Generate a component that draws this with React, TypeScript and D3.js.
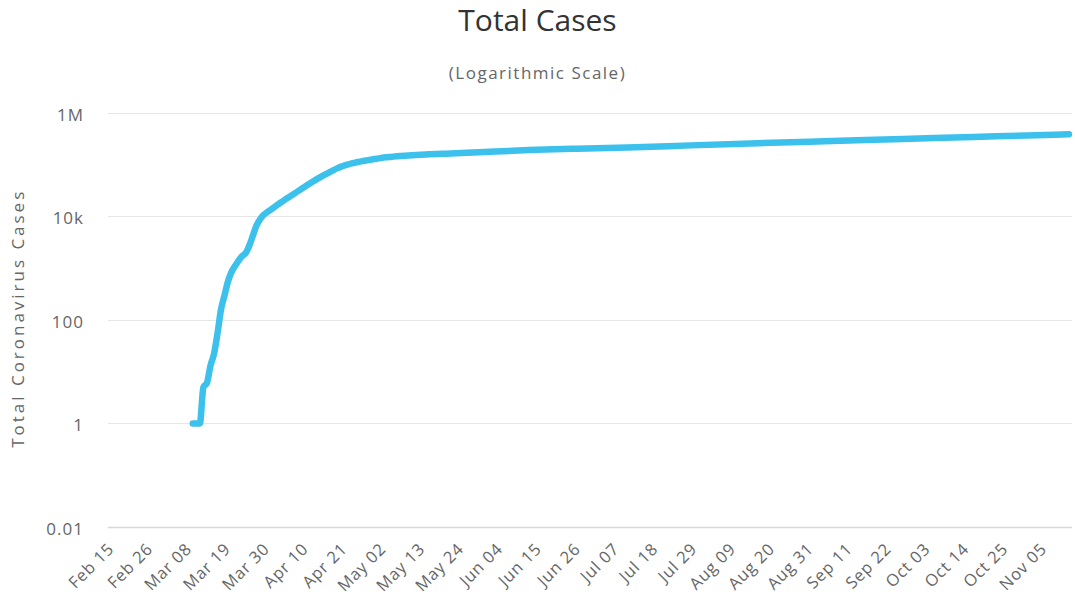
import React from "react";
import * as d3 from "d3";

// Cumulative confirmed cases, read per day through early May, then less often.
const dates: string[] = [
  "2020-03-10", "2020-03-11", "2020-03-12", "2020-03-13", "2020-03-14", "2020-03-15",
  "2020-03-16", "2020-03-17", "2020-03-18", "2020-03-19", "2020-03-20", "2020-03-21",
  "2020-03-22", "2020-03-23", "2020-03-24", "2020-03-25", "2020-03-26", "2020-03-27",
  "2020-03-28", "2020-03-29", "2020-03-30", "2020-03-31", "2020-04-01", "2020-04-02",
  "2020-04-03", "2020-04-04", "2020-04-05", "2020-04-06", "2020-04-07", "2020-04-08",
  "2020-04-09", "2020-04-10", "2020-04-11", "2020-04-12", "2020-04-13", "2020-04-14",
  "2020-04-15", "2020-04-16", "2020-04-17", "2020-04-18", "2020-04-19", "2020-04-20",
  "2020-04-21", "2020-04-22", "2020-04-23", "2020-04-24", "2020-04-25", "2020-04-26",
  "2020-04-27", "2020-04-28", "2020-04-29", "2020-04-30", "2020-05-01", "2020-05-02",
  "2020-05-03", "2020-05-04", "2020-05-05",
  "2020-05-09", "2020-05-15", "2020-05-22", "2020-05-30", "2020-06-13", "2020-06-27",
  "2020-07-11", "2020-07-29", "2020-08-17", "2020-09-07", "2020-09-27", "2020-10-17",
  "2020-11-01", "2020-11-13",
];

const cases: number[] = [
  1, 1, 1, 5, 6, 13,
  22, 55, 160, 300, 560, 850,
  1100, 1400, 1700, 1950, 2700, 4200,
  6500, 8600, 10500, 11800, 13200, 14800,
  16600, 18500, 20600, 22800, 25200, 28000,
  31000, 34500, 38300, 42300, 46600, 51200,
  56000, 61000, 66200, 72000, 78400, 84500,
  90300, 95500, 100000, 104000, 108000, 111500,
  115000, 118500, 122000, 125000, 128000, 131500,
  135000, 137000, 139000,
  146000, 155000, 162000, 171000, 188000, 200000,
  210000, 232000, 256000, 282000, 308000, 338000,
  360000, 381000,
];

// Axis extent and tick labels
const axisStart = "2020-02-15";
const axisEnd = "2020-11-13";
const xTickLabels: string[] = [
  "Feb 15", "Feb 26", "Mar 08", "Mar 19", "Mar 30", "Apr 10", "Apr 21", "May 02",
  "May 13", "May 24", "Jun 04", "Jun 15", "Jun 26", "Jul 07", "Jul 18", "Jul 29",
  "Aug 09", "Aug 20", "Aug 31", "Sep 11", "Sep 22", "Oct 03", "Oct 14", "Oct 25", "Nov 05",
];
const yTickValues: number[] = [0.01, 1, 100, 10000, 1000000];
const yTickLabels: string[] = ["0.01", "1", "100", "10k", "1M"];

const W = 1075;
const H = 616;
const plot = { left: 108, right: 1069, top: 112.5, bottom: 527 };
const FONT = "'Open Sans', 'DejaVu Sans', sans-serif";

export default function App() {
  const parse = d3.utcParse("%Y-%m-%d");
  const parseTick = d3.utcParse("%b %d %Y");

  const x = d3
    .scaleUtc()
    .domain([parse(axisStart)!, parse(axisEnd)!])
    .range([plot.left, plot.right]);

  const y = d3
    .scaleLog()
    .domain([0.01, 1000000])
    .range([plot.bottom, plot.top]);

  const points = dates.map((d, i) => ({ date: parse(d)!, value: cases[i] }));

  const line = d3
    .line<{ date: Date; value: number }>()
    .x((d) => x(d.date))
    .y((d) => y(d.value))
    .curve(d3.curveMonotoneX);

  const ticks = xTickLabels.map((label) => ({
    label,
    date: parseTick(label + " 2020")!,
  }));

  return (
    <svg
      width={W}
      height={H}
      style={{ position: "absolute", left: 0, top: 0, background: "#fff" }}
      fontFamily={FONT}
    >
      <rect x={0} y={0} width={W} height={H} fill="#fff" />

      <text x={W / 2} y={31} textAnchor="middle" fontSize={30} fill="#333">
        Total Cases
      </text>
      <text
        x={W / 2}
        y={79}
        textAnchor="middle"
        fontSize={17}
        letterSpacing={1.5}
        fill="#666"
      >
        (Logarithmic Scale)
      </text>

      {/* horizontal grid */}
      {yTickValues.map((v) => (
        <line
          key={"g" + v}
          x1={plot.left}
          x2={plot.right + 3}
          y1={Math.round(y(v)) + 0.5}
          y2={Math.round(y(v)) + 0.5}
          stroke={v === 0.01 ? "#d8d8d8" : "#e6e6e6"}
          strokeWidth={v === 0.01 ? 1.5 : 1}
        />
      ))}

      {/* y tick labels */}
      {yTickValues.map((v, i) => (
        <text
          key={"yl" + v}
          x={84}
          y={y(v) + 8}
          textAnchor="end"
          fontSize={17}
          letterSpacing={1}
          fill="#666"
        >
          {yTickLabels[i]}
        </text>
      ))}

      {/* y axis title */}
      <text
        transform={`translate(24, ${(plot.top + plot.bottom) / 2}) rotate(-90)`}
        textAnchor="middle"
        fontSize={17}
        textLength={256}
        lengthAdjust="spacing"
        fill="#666"
      >
        Total Coronavirus Cases
      </text>

      {/* x tick labels */}
      {ticks.map((t) => (
        <text
          key={t.label}
          transform={`translate(${x(t.date) + 7}, 550) rotate(-45)`}
          textAnchor="end"
          fontSize={16.5}
          letterSpacing={0.8}
          fill="#666"
        >
          {t.label}
        </text>
      ))}

      <path
        d={line(points) ?? ""}
        fill="none"
        stroke="#3cc0ec"
        strokeWidth={6.5}
        strokeLinecap="round"
        strokeLinejoin="round"
      />
    </svg>
  );
}
